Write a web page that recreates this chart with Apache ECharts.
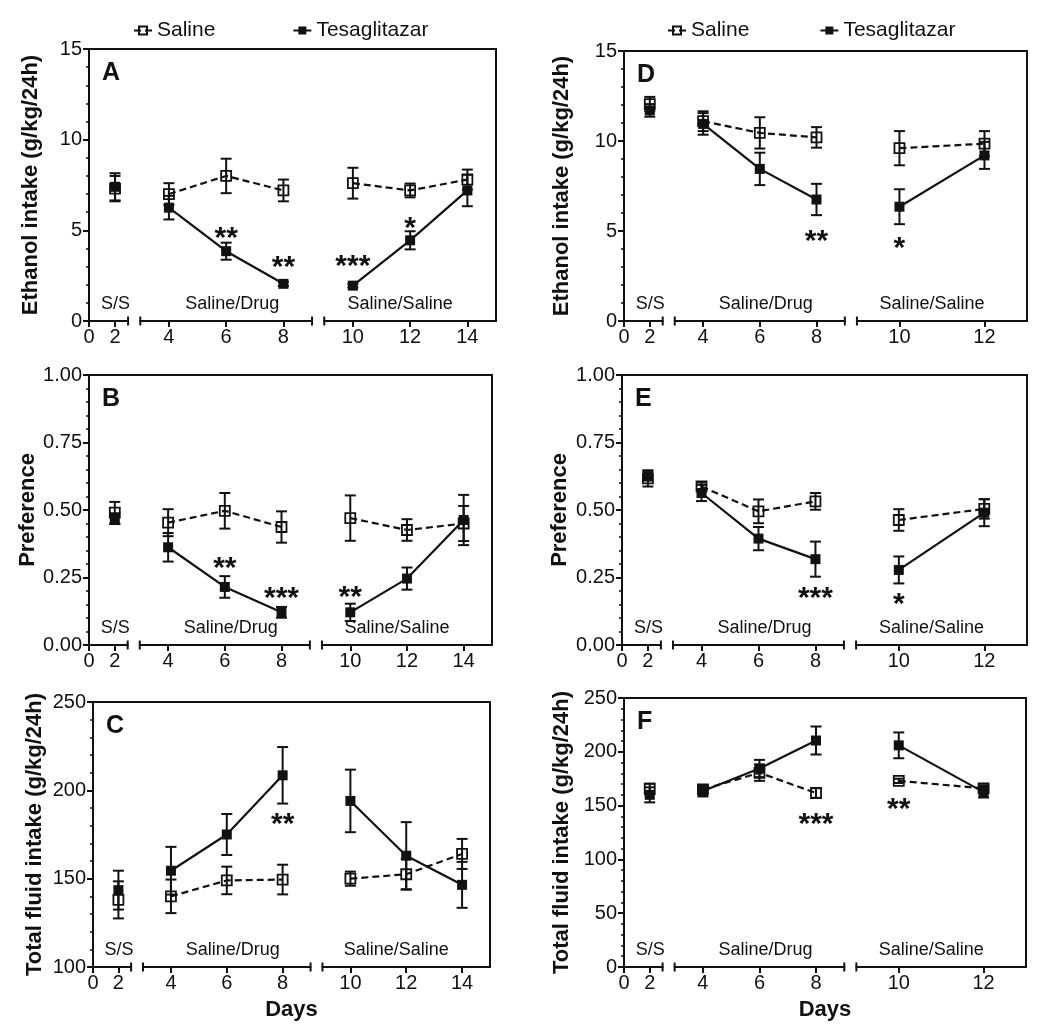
<!DOCTYPE html>
<html>
<head>
<meta charset="utf-8">
<script src="https://cdn.jsdelivr.net/npm/echarts@6/dist/echarts.min.js"></script>
<style>html,body{margin:0;padding:0;background:#fff}#c{width:1050px;height:1035px}</style>
</head>
<body>
<div id="c"></div>
<script>
// ---------------- data ----------------
const DAYS_L = [2, 4, 6, 8, 10, 12, 14];
const DAYS_R = [2, 4, 6, 8, 10, 12];

// A: ethanol intake (left column)
const salA    = [7.3, 7.0, 8.0, 7.2, 7.6, 7.2, 7.8];
const salAErr = [0.7, 0.6, 0.95, 0.6, 0.85, 0.38, 0.55];
const tesA    = [7.4, 6.25, 3.85, 2.05, 1.95, 4.45, 7.2];
const tesAErr = [0.75, 0.65, 0.47, 0.12, 0.1, 0.5, 0.87];
const sigA = [[6, 4.9, '**'], [8, 3.3, '**'], [10, 3.4, '***'], [12, 5.5, '*']];

// B: preference
const salB    = [0.49, 0.453, 0.497, 0.437, 0.47, 0.426, 0.45];
const salBErr = [0.04, 0.05, 0.066, 0.058, 0.084, 0.04, 0.065];
const tesB    = [0.468, 0.362, 0.215, 0.121, 0.121, 0.246, 0.463];
const tesBErr = [0.02, 0.053, 0.04, 0.02, 0.032, 0.041, 0.093];
const sigB = [[6, 0.309, '**'], [8, 0.198, '***'], [10, 0.2, '**']];

// C: total fluid intake
const salC    = [138, 140, 149, 149.5, 150, 152.5, 164];
const salCErr = [10.5, 9.5, 7.8, 8.4, 4, 8.7, 8.5];
const tesC    = [143.5, 154.5, 175, 208.5, 194, 163, 146.5];
const tesCErr = [11, 13.5, 11.6, 16, 17.7, 19, 13];
const sigC = [[8, 184.5, '**']];

// D: ethanol intake (right column)
const salD    = [12.05, 11.1, 10.45, 10.2, 9.6, 9.85];
const salDErr = [0.4, 0.55, 0.87, 0.57, 0.95, 0.7];
const tesD    = [11.7, 10.95, 8.45, 6.75, 6.35, 9.2];
const tesDErr = [0.35, 0.6, 0.9, 0.87, 0.97, 0.75];
const sigD = [[8, 4.8, '**'], [10, 4.41, '*']];

// E: preference
const salE    = [0.617, 0.587, 0.495, 0.532, 0.463, 0.504];
const salEErr = [0.03, 0.015, 0.044, 0.031, 0.04, 0.036];
const tesE    = [0.627, 0.563, 0.394, 0.318, 0.278, 0.49];
const tesEErr = [0.018, 0.03, 0.043, 0.065, 0.05, 0.05];
const sigE = [[8, 0.198, '***'], [10, 0.174, '*']];

// F: total fluid intake
const salF    = [165.5, 165, 180.5, 161.7, 173, 166];
const salFErr = [5, 4, 7.5, 4.5, 2, 3];
const tesF    = [160, 163.5, 184.5, 210.5, 206, 162.5];
const tesFErr = [7, 5, 8, 13, 12, 5];
const sigF = [[8, 138.5, '***'], [10, 152.7, '**']];

// axis segments / ticks / labels
const SEG_L = [[0, 3], [3, 9], [9, 15]];
const SEG_R = [[0, 3], [3, 9], [9, 13]];
const TICKS_L = [[0, 2], [4, 6, 8], [10, 12, 14]];
const TICKS_R = [[0, 2], [4, 6, 8], [10, 12]];
const PERIODS = ['S/S', 'Saline/Drug', 'Saline/Saline'];
const SERIES_NAMES = ['Saline', 'Tesaglitazar'];
const Y_ETOH  = {min: 0, max: 15, interval: 5, dec: 0, title: 'Ethanol intake (g/kg/24h)'};
const Y_PREF  = {min: 0, max: 1, interval: 0.25, dec: 2, title: 'Preference'};
const Y_FLU_C = {min: 100, max: 250, interval: 50, dec: 0, title: 'Total fluid intake (g/kg/24h)'};
const Y_FLU_F = {min: 0, max: 250, interval: 50, dec: 0, title: 'Total fluid intake (g/kg/24h)'};

// ---------------- layout ----------------
const INK = '#111';
const FONT = '"Liberation Sans", Arial, Helvetica, sans-serif';
const FRAC = [0.096, 0.03, 0.422, 0.03, 0.422];
const PERIOD_SHIFT = [7, 6, -10];

const panels = [
  {key: 'A', col: 'L', days: DAYS_L, sal: salA, salErr: salAErr, tes: tesA, tesErr: tesAErr, sig: sigA, y: Y_ETOH, box: {left: 89, top: 49, width: 407, height: 272}},
  {key: 'B', col: 'L', days: DAYS_L, sal: salB, salErr: salBErr, tes: tesB, tesErr: tesBErr, sig: sigB, y: Y_PREF, box: {left: 89, top: 375, width: 403, height: 270}},
  {key: 'C', col: 'L', days: DAYS_L, sal: salC, salErr: salCErr, tes: tesC, tesErr: tesCErr, sig: sigC, y: Y_FLU_C, box: {left: 93, top: 702, width: 397, height: 265}, days_title: true},
  {key: 'D', col: 'R', days: DAYS_R, sal: salD, salErr: salDErr, tes: tesD, tesErr: tesDErr, sig: sigD, y: Y_ETOH, box: {left: 624, top: 51, width: 403, height: 270}},
  {key: 'E', col: 'R', days: DAYS_R, sal: salE, salErr: salEErr, tes: tesE, tesErr: tesEErr, sig: sigE, y: Y_PREF, box: {left: 622, top: 375, width: 405, height: 270}},
  {key: 'F', col: 'R', days: DAYS_R, sal: salF, salErr: salFErr, tes: tesF, tesErr: tesFErr, sig: sigF, y: Y_FLU_F, box: {left: 624, top: 698, width: 402, height: 269}, days_title: true}
];

const grids = [], xAxes = [], yAxes = [], series = [], graphics = [];

function errRender(params, api) {
  const x = api.value(0), y = api.value(1), e = api.value(2);
  const hi = api.coord([x, y + e]);
  const lo = api.coord([x, y - e]);
  const cw = 5.5;
  const st = {stroke: INK, lineWidth: 2};
  return {type: 'group', children: [
    {type: 'line', shape: {x1: hi[0], y1: hi[1], x2: lo[0], y2: lo[1]}, style: st},
    {type: 'line', shape: {x1: hi[0] - cw, y1: hi[1], x2: hi[0] + cw, y2: hi[1]}, style: st},
    {type: 'line', shape: {x1: lo[0] - cw, y1: lo[1], x2: lo[0] + cw, y2: lo[1]}, style: st}
  ]};
}

panels.forEach(p => {
  const b = p.box;
  const gi = grids.length;
  grids.push({left: b.left, top: b.top, width: b.width, height: b.height, outerBoundsMode: 'none'});
  xAxes.push({gridIndex: gi, type: 'value', position: 'top', min: 0, max: 1,
    axisLine: {show: true, onZero: false, lineStyle: {color: INK, width: 2}},
    axisTick: {show: false}, axisLabel: {show: false}, splitLine: {show: false}});
  const fx = xAxes.length - 1;
  yAxes.push({gridIndex: gi, type: 'value', position: 'left', min: p.y.min, max: p.y.max, interval: p.y.interval,
    axisLine: {show: true, onZero: false, lineStyle: {color: INK, width: 2}},
    axisTick: {show: true, length: 6, lineStyle: {color: INK, width: 2}},
    minorTick: {show: true, splitNumber: 5, length: 3, lineStyle: {color: INK, width: 1.5}},
    axisLabel: {color: INK, fontSize: 20, fontFamily: FONT, margin: 7, formatter: v => v.toFixed(p.y.dec)},
    splitLine: {show: false}, minorSplitLine: {show: false},
    name: p.y.title, nameLocation: 'middle', nameGap: p.col === 'L' ? 47 : 51,
    nameTextStyle: {color: INK, fontSize: 22, fontWeight: 'bold', fontFamily: FONT}});
  const fy = yAxes.length - 1;
  yAxes.push({gridIndex: gi, type: 'value', position: 'right', min: p.y.min, max: p.y.max,
    axisLine: {show: true, onZero: false, lineStyle: {color: INK, width: 2}},
    axisTick: {show: false}, axisLabel: {show: false}, splitLine: {show: false}});
  series.push({type: 'line', xAxisIndex: fx, yAxisIndex: fy, data: [], silent: true});

  const segs = p.col === 'L' ? SEG_L : SEG_R;
  const ticks = p.col === 'L' ? TICKS_L : TICKS_R;
  let off = 0;
  segs.forEach((seg, s) => {
    const fw = FRAC[s * 2];
    const left = b.left + off * b.width;
    const w = fw * b.width;
    off += fw + (s < 2 ? FRAC[s * 2 + 1] : 0);
    const g = grids.length;
    grids.push({left: left, top: b.top, width: w, height: b.height, outerBoundsMode: 'none'});
    const sh = PERIOD_SHIFT[s];
    xAxes.push({gridIndex: g, type: 'value', position: 'bottom', min: seg[0], max: seg[1],
      axisLine: {show: true, onZero: false, symbol: [s === 0 ? 'none' : 'rect', s === 2 ? 'none' : 'rect'], symbolSize: [9, 2],
        lineStyle: {color: INK, width: 2}},
      axisTick: {show: true, customValues: ticks[s], length: 6, lineStyle: {color: INK, width: 2}},
      axisLabel: {show: true, customValues: ticks[s], color: INK, fontSize: 20, fontFamily: FONT, margin: 6},
      splitLine: {show: false},
      name: PERIODS[s], nameLocation: 'middle', nameGap: -26,
      nameTextStyle: {color: INK, fontSize: 18, fontFamily: FONT,
        padding: sh >= 0 ? [0, 0, 0, 2 * sh] : [0, -2 * sh, 0, 0]}});
    const xi = xAxes.length - 1;
    yAxes.push({gridIndex: g, type: 'value', min: p.y.min, max: p.y.max, show: false});
    const yi = yAxes.length - 1;

    const idx = p.days.map((d, i) => i).filter(i => p.days[i] >= seg[0] && p.days[i] <= seg[1]);
    const salData = idx.map(i => [p.days[i], p.sal[i]]);
    const tesData = idx.map(i => [p.days[i], p.tes[i]]);
    const salErr = idx.map(i => [p.days[i], p.sal[i], p.salErr[i]]);
    const tesErr = idx.map(i => [p.days[i], p.tes[i], p.tesErr[i]]);

    series.push({type: 'custom', xAxisIndex: xi, yAxisIndex: yi, z: 1, silent: true, renderItem: errRender,
      data: salErr, encode: {x: 0, y: 1}});
    series.push({type: 'custom', xAxisIndex: xi, yAxisIndex: yi, z: 1, silent: true, renderItem: errRender,
      data: tesErr, encode: {x: 0, y: 1}});
    series.push({type: 'line', name: SERIES_NAMES[0], xAxisIndex: xi, yAxisIndex: yi, z: 2, data: salData,
      symbol: 'rect', symbolSize: 10, showAllSymbol: true, silent: true,
      itemStyle: {color: 'rgba(0,0,0,0)', borderColor: INK, borderWidth: 1.8},
      lineStyle: {color: INK, width: 2.2, type: [7, 4]}, emphasis: {disabled: true}});
    series.push({type: 'line', name: SERIES_NAMES[1], xAxisIndex: xi, yAxisIndex: yi, z: 3, data: tesData,
      symbol: 'rect', symbolSize: 10, showAllSymbol: true, silent: true,
      itemStyle: {color: INK, borderColor: INK, borderWidth: 0},
      lineStyle: {color: INK, width: 2.2, type: 'solid'}, emphasis: {disabled: true}});

    const sigs = p.sig.filter(q => q[0] >= seg[0] && q[0] <= seg[1]);
    if (sigs.length) {
      series.push({type: 'custom', xAxisIndex: xi, yAxisIndex: yi, z: 4, silent: true,
        data: sigs.map(q => [q[0], q[1]]), encode: {x: 0, y: 1},
        renderItem: (params, api) => {
          const pt = api.coord([api.value(0), api.value(1)]);
          return {type: 'text', x: pt[0], y: pt[1] + 7,
            style: {text: sigs[params.dataIndex][2], fill: INK, fontSize: 30, fontWeight: 'bold', fontFamily: FONT,
              align: 'center', verticalAlign: 'middle'}};
        }});
    }
  });

  graphics.push({type: 'text', x: b.left + 13, y: b.top + 12,
    style: {text: p.key, fill: INK, fontSize: 25, fontWeight: 'bold', fontFamily: FONT}});
  if (p.days_title) {
    graphics.push({type: 'text', x: b.left + b.width / 2, y: 1010,
      style: {text: 'Days', fill: INK, fontSize: 22, fontWeight: 'bold', fontFamily: FONT, align: 'center', verticalAlign: 'middle'}});
  }
});

const legendBase = {
  data: SERIES_NAMES, top: 15, itemWidth: 18, itemHeight: 10, selectedMode: false,
  textStyle: {color: INK, fontSize: 21, fontFamily: FONT}
};

const chart = echarts.init(document.getElementById('c'), null, {renderer: 'canvas'});
chart.setOption({
  backgroundColor: '#fff',
  animation: false,
  legend: [
    Object.assign({}, legendBase, {left: 128, itemGap: 77}),
    Object.assign({}, legendBase, {left: 662, itemGap: 70})
  ],
  grid: grids,
  xAxis: xAxes,
  yAxis: yAxes,
  series: series,
  graphic: graphics
});
</script>
</body>
</html>
